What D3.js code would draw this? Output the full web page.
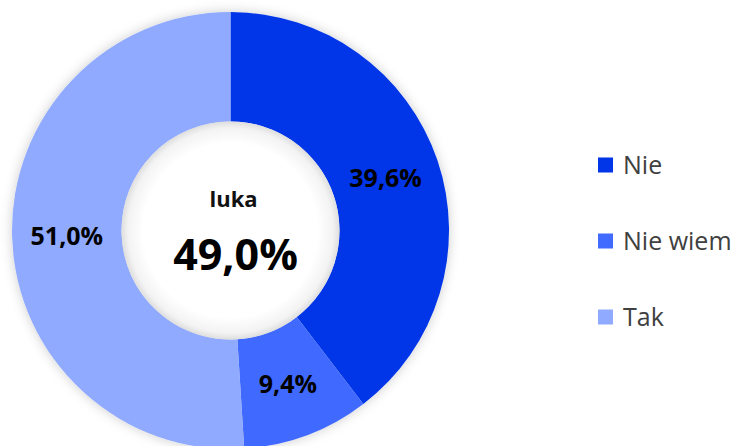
<!DOCTYPE html>
<html>
<head>
<meta charset="utf-8">
<script src="https://cdn.jsdelivr.net/npm/d3@7"></script>
<style>
  body { margin: 0; background: #fff; }
  svg { display: block; font-family: "Open Sans", "Noto Sans", sans-serif; }
</style>
</head>
<body>
<div id="chart"></div>
<script>
// data
const categories = ["Nie", "Nie wiem", "Tak"];
const values     = [39.6, 9.4, 51.0];
const colors     = ["#0035e8", "#416bff", "#8faaff"];
const centerLabel = "luka";
const centerValue = 49.0;

const width = 745, height = 446;
const cx = 230.5, cy = 230.5;
const outerR = 218.5, innerR = 109;

const fmt = d3.formatLocale({decimal: ",", thousands: " ", grouping: [3], currency: ["", " zł"]})
  .format(".1f");

const svg = d3.select("#chart")
  .append("svg")
    .attr("width", width)
    .attr("height", height);

const defs = svg.append("defs");

// soft shadow round the ring
const shadow = defs.append("filter")
  .attr("id", "ringShadow")
  .attr("x", "-20%").attr("y", "-20%")
  .attr("width", "140%").attr("height", "140%");
shadow.append("feDropShadow")
  .attr("dx", 0).attr("dy", 0)
  .attr("stdDeviation", 6)
  .attr("flood-color", "#000")
  .attr("flood-opacity", 0.2);

// inner hole: white with a grey edge
const hole = defs.append("radialGradient").attr("id", "holeGrad");
hole.append("stop").attr("offset", "0.8").attr("stop-color", "#ffffff");
hole.append("stop").attr("offset", "0.94").attr("stop-color", "#f3f3f3");
hole.append("stop").attr("offset", "1").attr("stop-color", "#dedede");

const color = d3.scaleOrdinal().domain(categories).range(colors);

const pie = d3.pie().sort(null).value(d => d.value);
const arcs = pie(categories.map((c, i) => ({cat: c, value: values[i]})));

const arc = d3.arc().innerRadius(innerR).outerRadius(outerR);

const g = svg.append("g").attr("transform", `translate(${cx},${cy})`);

g.append("g")
  .attr("filter", "url(#ringShadow)")
  .selectAll("path")
  .data(arcs)
  .enter().append("path")
    .attr("d", arc)
    .style("fill", d => color(d.data.cat));

g.append("circle")
  .attr("r", innerR)
  .style("fill", "url(#holeGrad)");

// slice labels
g.selectAll(".label")
  .data(arcs)
  .enter().append("text")
    .attr("transform", d => `translate(${arc.centroid(d)})`)
    .attr("text-anchor", "middle")
    .attr("dy", "0.38em")
    .style("font-size", "25px")
    .style("font-weight", "bold")
    .style("fill", "#000")
    .text(d => fmt(d.data.value) + "%");

// center
g.append("text")
  .attr("x", 3).attr("y", -24)
  .attr("text-anchor", "middle")
  .style("font-size", "22px")
  .style("font-weight", "bold")
  .style("fill", "#111")
  .text(centerLabel);

g.append("text")
  .attr("x", 5).attr("y", 39)
  .attr("text-anchor", "middle")
  .style("font-size", "43px")
  .style("font-weight", "bold")
  .style("fill", "#000")
  .text(fmt(centerValue) + "%");

// legend
const legend = svg.append("g").attr("transform", "translate(598, 165)");
categories.forEach((c, i) => {
  const row = legend.append("g").attr("transform", `translate(0, ${i * 76})`);
  row.append("rect")
    .attr("x", 0).attr("y", -7.5)
    .attr("width", 15).attr("height", 15)
    .style("fill", color(c));
  row.append("text")
    .attr("x", 25).attr("y", 0)
    .attr("dy", "0.35em")
    .style("font-size", "25px")
    .style("fill", "#404040")
    .text(c);
});
</script>
</body>
</html>
